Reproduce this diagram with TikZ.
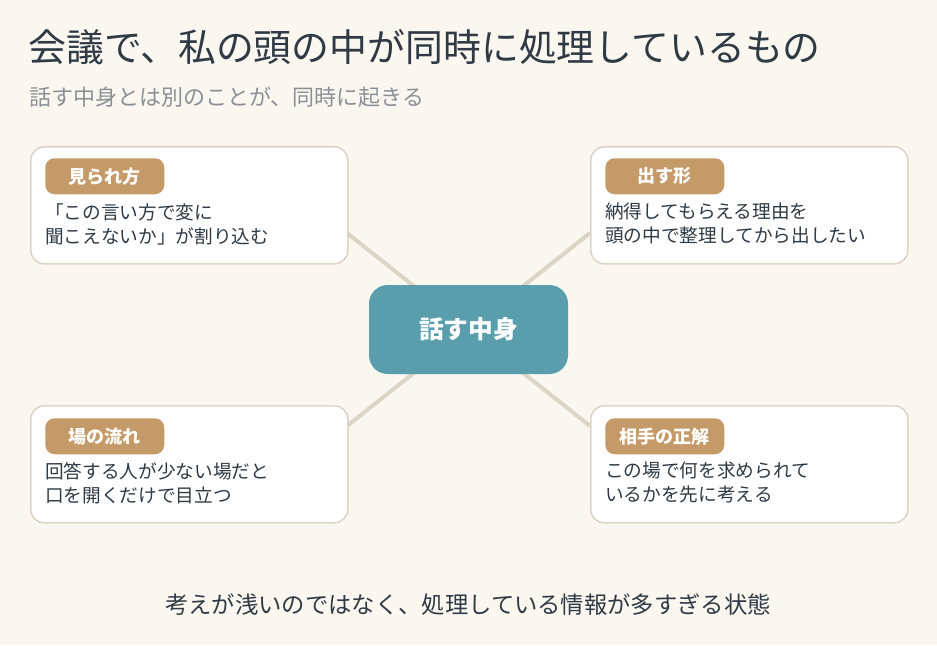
\documentclass[tikz,border=0pt]{standalone}
\usepackage{fontspec}
\setmainfont{Noto Sans CJK JP}
\definecolor{bg}{HTML}{FAF7F0}
\definecolor{tan}{HTML}{C49B68}
\definecolor{teal}{HTML}{5A9EAD}
\definecolor{ink}{HTML}{2F3A45}
\definecolor{sub}{HTML}{8A9096}
\definecolor{edge}{HTML}{DDD6C8}
\definecolor{link}{HTML}{DCD4C4}
\begin{document}
\begin{tikzpicture}[x=0.75pt,y=-0.75pt,
  card/.style={draw=edge,line width=1.2pt,fill=white,rounded corners=10pt,minimum width=317*0.75pt,minimum height=117*0.75pt,anchor=north west,inner sep=0pt},
  badge/.style={fill=tan,rounded corners=7pt,minimum width=119*0.75pt,minimum height=36*0.75pt,anchor=north west,text=white,font=\fontsize{13.5}{15}\selectfont\bfseries,inner sep=0pt},
  body/.style={anchor=north west,align=left,text=ink,font=\fontsize{14}{18}\selectfont,inner sep=0pt},
  link/.style={draw=link,line width=3pt}]
\fill[bg] (0,0) rectangle (937,645);
\node[anchor=west,text=ink,font=\fontsize{28.4}{30}\selectfont,inner sep=0pt] (title) at (28,47) {会議で、私の頭の中が同時に処理しているもの};
\node[anchor=west,text=sub,font=\fontsize{16.5}{18}\selectfont,inner sep=0pt] (subt) at (29,97) {話す中身とは別のことが、同時に起きる};
\coordinate (cc) at (468.5,329.5);
\coordinate (tl) at (347,233); \coordinate (tr) at (590,233);
\coordinate (bl) at (347,426); \coordinate (br) at (590,426);
\draw[link] (cc) -- (tl); \draw[link] (cc) -- (tr);
\draw[link] (cc) -- (bl); \draw[link] (cc) -- (br);
\node[fill=teal,rounded corners=14pt,minimum width=199*0.75pt,minimum height=89*0.75pt,text=white,font=\fontsize{18.5}{20}\selectfont\bfseries,inner sep=0pt] (c) at (cc) {話す中身};
\node[card] (k1) at (30,146) {}; \node[card] (k2) at (590,146) {};
\node[card] (k3) at (30,405) {}; \node[card] (k4) at (590,405) {};
\node[badge] (b1) at (45,158) {見られ方};
\node[badge] (b2) at (605,158) {出す形};
\node[badge] (b3) at (45,418) {場の流れ};
\node[badge] (b4) at (605,418) {相手の正解};
\node[body] (t1) at (45,203) {「この言い方で変に\\聞こえないか」が割り込む};
\node[body] (t2) at (605,203) {納得してもらえる理由を\\頭の中で整理してから出したい};
\node[body] (t3) at (45,462) {回答する人が少ない場だと\\口を開くだけで目立つ};
\node[body] (t4) at (605,462) {この場で何を求められて\\いるかを先に考える};
\node[text=ink,font=\fontsize{17.5}{19}\selectfont,inner sep=0pt] (foot) at (468,605) {考えが浅いのではなく、処理している情報が多すぎる状態};
\end{tikzpicture}
\end{document}
